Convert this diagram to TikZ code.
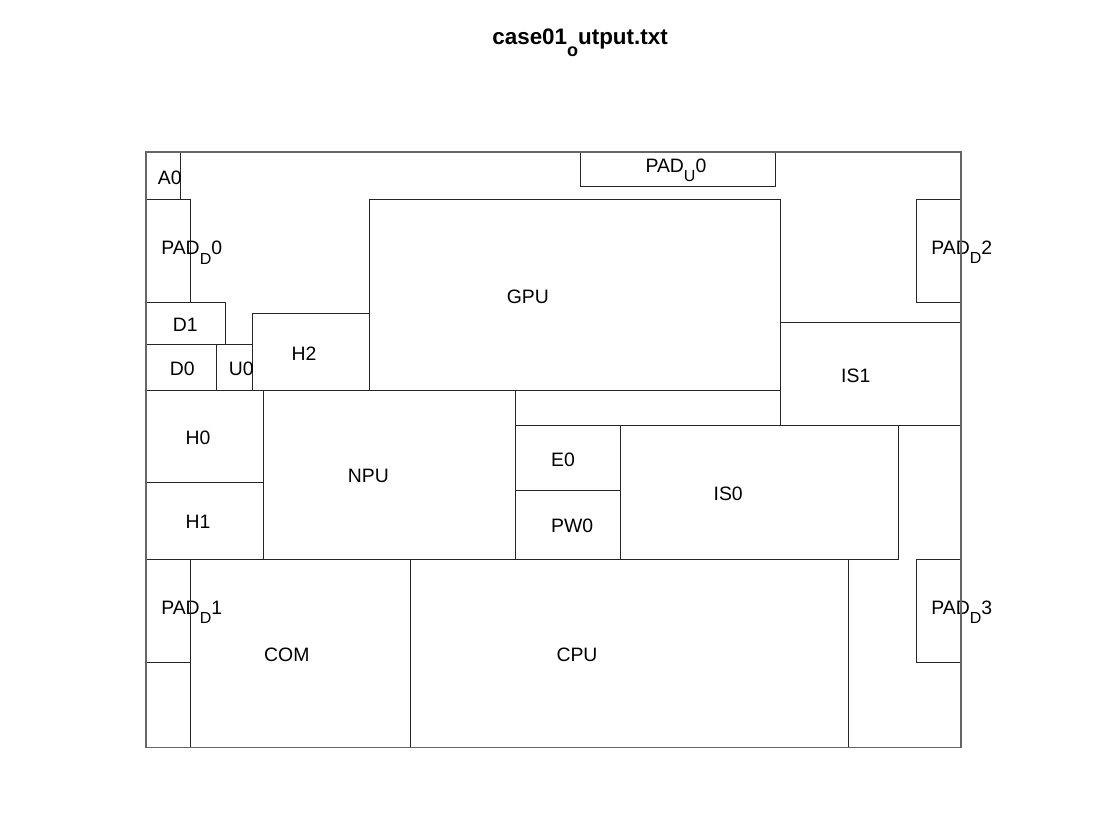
\documentclass[tikz,border=0pt]{standalone}
\usepackage{fontspec}
\setmainfont{Liberation Sans}
\newcommand\sbs[1]{\raisebox{-4.6pt}{\fontsize{8}{9}\selectfont #1}}
\newcommand\tsbs[1]{\raisebox{-5.8pt}{\fontsize{9}{9}\selectfont\bfseries #1}}
\begin{document}
\begin{tikzpicture}[x=0.5pt,y=-0.5pt,
  blk/.style={draw=black!85, line width=0.5pt},
  frame/.style={draw=black!60, line width=0.6pt},
  lbl/.style={anchor=west, inner sep=0pt, yshift=-0.7pt, font=\fontsize{9.7}{11}\selectfont},
  ttl/.style={anchor=base west, inner sep=0pt, font=\fontsize{11.2}{13}\selectfont\bfseries}]
\useasboundingbox (0,0) rectangle (1120,840);
\fill[white] (0,0) rectangle (1120,840);
% title
\node[ttl] (title) at (492,45) {case01\tsbs{o}utput.txt};
% outer frame
\draw[frame] (146,152) rectangle (961,747.5);
% blocks
\draw[blk] (146,152) rectangle (180.3,200);
\node[lbl] (A0) at ({146+(180.3-146)/3},176) {A0};
\draw[blk] (580,152) rectangle (775.3,186.7);
\node[lbl] (PADU0) at ({580+(775.3-580)/3},169.3) {PAD\sbs{U}0};
\draw[blk] (146,200) rectangle (190.7,302.7);
\node[lbl] (PADD0) at ({146+(190.7-146)/3},251.3) {PAD\sbs{D}0};
\draw[blk] (369.3,200) rectangle (780.7,390.7);
\node[lbl] (GPU) at ({369.3+(780.7-369.3)/3},295.3) {GPU};
\draw[blk] (916,200) rectangle (961,302.3);
\node[lbl] (PADD2) at ({916+(961-916)/3},251.1) {PAD\sbs{D}2};
\draw[blk] (146,302.7) rectangle (225.3,344);
\node[lbl] (D1) at ({146+(225.3-146)/3},323.3) {D1};
\draw[blk] (252.3,313.3) rectangle (369.3,390.7);
\node[lbl] (H2) at ({252.3+(369.3-252.3)/3},352) {H2};
\draw[blk] (780.7,322.7) rectangle (961,425.7);
\node[lbl] (IS1) at ({780.7+(961-780.7)/3},374.2) {IS1};
\draw[blk] (146,344) rectangle (216.7,390.7);
\node[lbl] (D0) at ({146+(216.7-146)/3},367.3) {D0};
\draw[blk] (216.7,344) rectangle (252.3,390.7);
\node[lbl] (U0) at ({216.7+(252.3-216.7)/3},367.3) {U0};
\draw[blk] (146,390.7) rectangle (263.3,482);
\node[lbl] (H0) at ({146+(263.3-146)/3},436.3) {H0};
\draw[blk] (146,482) rectangle (263.3,559.3);
\node[lbl] (H1) at ({146+(263.3-146)/3},520.6) {H1};
\draw[blk] (263.3,390.7) rectangle (515.7,559.3);
\node[lbl] (NPU) at ({263.3+(515.7-263.3)/3},475) {NPU};
\draw[blk] (515.7,390.7) rectangle (780.7,425.7);
\draw[blk] (515.7,425.7) rectangle (620.7,490.3);
\node[lbl] (E0) at ({515.7+(620.7-515.7)/3},458) {E0};
\draw[blk] (515.7,490.3) rectangle (620.7,559.3);
\node[lbl] (PW0) at ({515.7+(620.7-515.7)/3},524.8) {PW0};
\draw[blk] (620.7,425.7) rectangle (898.3,559.3);
\node[lbl] (IS0) at ({620.7+(898.3-620.7)/3},492.5) {IS0};
\draw[blk] (146,559.3) rectangle (190.7,662.3);
\node[lbl] (PADD1) at ({146+(190.7-146)/3},610.8) {PAD\sbs{D}1};
\draw[blk] (190.7,559.3) rectangle (410,747.5);
\node[lbl] (COM) at ({190.7+(410-190.7)/3},653.4) {COM};
\draw[blk] (410,559.3) rectangle (848.3,747.5);
\node[lbl] (CPU) at ({410+(848.3-410)/3},653.4) {CPU};
\draw[blk] (916,559.3) rectangle (961,662.3);
\node[lbl] (PADD3) at ({916+(961-916)/3},610.8) {PAD\sbs{D}3};
% redraw frame on top
\draw[frame] (146,152) rectangle (961,747.5);
\end{tikzpicture}
\end{document}
